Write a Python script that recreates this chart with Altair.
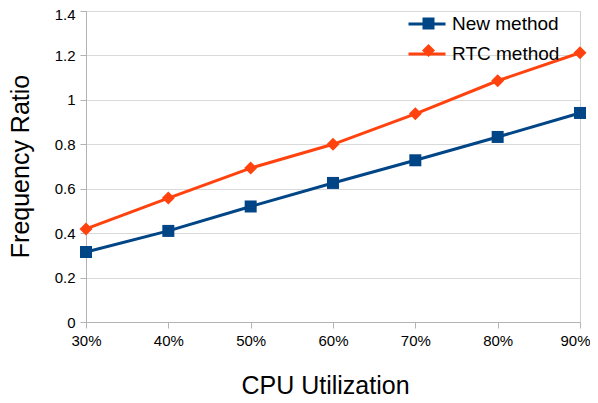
import altair as alt
import pandas as pd

categories = ["30%", "40%", "50%", "60%", "70%", "80%", "90%"]
new_method = [0.315, 0.41, 0.52, 0.626, 0.728, 0.833, 0.941]
rtc_method = [0.419, 0.558, 0.693, 0.80, 0.937, 1.086, 1.212]
series_names = ["New method", "RTC method"]
colors = ["#004586", "#ff420e"]
y_ticks = [0, 0.2, 0.4, 0.6, 0.8, 1.0, 1.2, 1.4]

rows = []
for c, a, b in zip(categories, new_method, rtc_method):
    rows.append({"cpu": c, "value": a, "method": series_names[0]})
    rows.append({"cpu": c, "value": b, "method": series_names[1]})
df = pd.DataFrame(rows)

FONT = "Liberation Sans"

x = alt.X("cpu:N", sort=categories,
          scale=alt.Scale(type="point", padding=0),
          axis=alt.Axis(title="CPU Utilization", labelAngle=0, labelFontSize=15,
                        labelPadding=5, tickSize=6, titleFontSize=25,
                        titleFontWeight="normal", titleX=239, titleY=71,
                        titleAnchor="middle", titleAlign="center",
                        titleBaseline="alphabetic",
                        labelAlign=alt.expr("datum.label == '90%' ? 'right' : 'center'"),
                        labelOffset=alt.expr("datum.label == '90%' ? 10 : 0")))
y = alt.Y("value:Q",
          scale=alt.Scale(domain=[0, 1.4], nice=False),
          axis=alt.Axis(title="Frequency Ratio", values=y_ticks, format=".1~f",
                        labelFontSize=15, labelPadding=5, tickSize=6,
                        titleFontSize=25, titleFontWeight="normal",
                        titleX=-58, titleY=155, titleAngle=-90,
                        titleAlign="center", titleBaseline="alphabetic",
                        labelOffset=alt.expr("datum.value == 1.4 ? 3 : 0"),
                        grid=True))

line = alt.Chart(df).mark_line(strokeWidth=3).encode(
    x=x, y=y,
    color=alt.Color("method:N", scale=alt.Scale(domain=series_names, range=colors),
                    legend=alt.Legend(title=None, orient="none", legendX=321, legendY=-7,
                                      symbolType="stroke", symbolSize=1369,
                                      symbolStrokeWidth=3, labelFontSize=19,
                                      labelOffset=5, padding=0, rowPadding=-6,
                                      labelFont=FONT)),
)

points = alt.Chart(df).mark_point(filled=True, opacity=1).encode(
    x=x, y=y,
    color=alt.Color("method:N", scale=alt.Scale(domain=series_names, range=colors),
                    legend=alt.Legend(title=None, orient="none", legendX=333, legendY=3,
                                      labelFontSize=19, labelOpacity=0,
                                      labelOffset=5, padding=0, rowPadding=7,
                                      symbolStrokeWidth=0, symbolOpacity=1,
                                      labelFont=FONT)),
    shape=alt.Shape("method:N", scale=alt.Scale(domain=series_names, range=["square", "diamond"])),
    size=alt.Size("method:N", scale=alt.Scale(domain=series_names, range=[144, 169])),
)

chart = alt.layer(line, points).resolve_scale(
    color="independent", shape="independent", size="independent"
).resolve_legend(
    color="independent", shape="independent", size="independent"
).properties(
    width=494, height=311,
    autosize=alt.AutoSizeParams(type="none"),
    padding={"left": 78, "top": 3, "right": 10, "bottom": 75},
).configure(font=FONT).configure_axis(
    domainColor="#b3b3b3", tickColor="#b3b3b3", gridColor="#d9d9d9",
    labelColor="#000000", titleColor="#000000", labelFont=FONT, titleFont=FONT,
).configure_view(stroke="#d0d0d0").configure_legend(labelColor="#000000")

chart.save("out.html", embed_options={"renderer": "svg", "actions": False})
